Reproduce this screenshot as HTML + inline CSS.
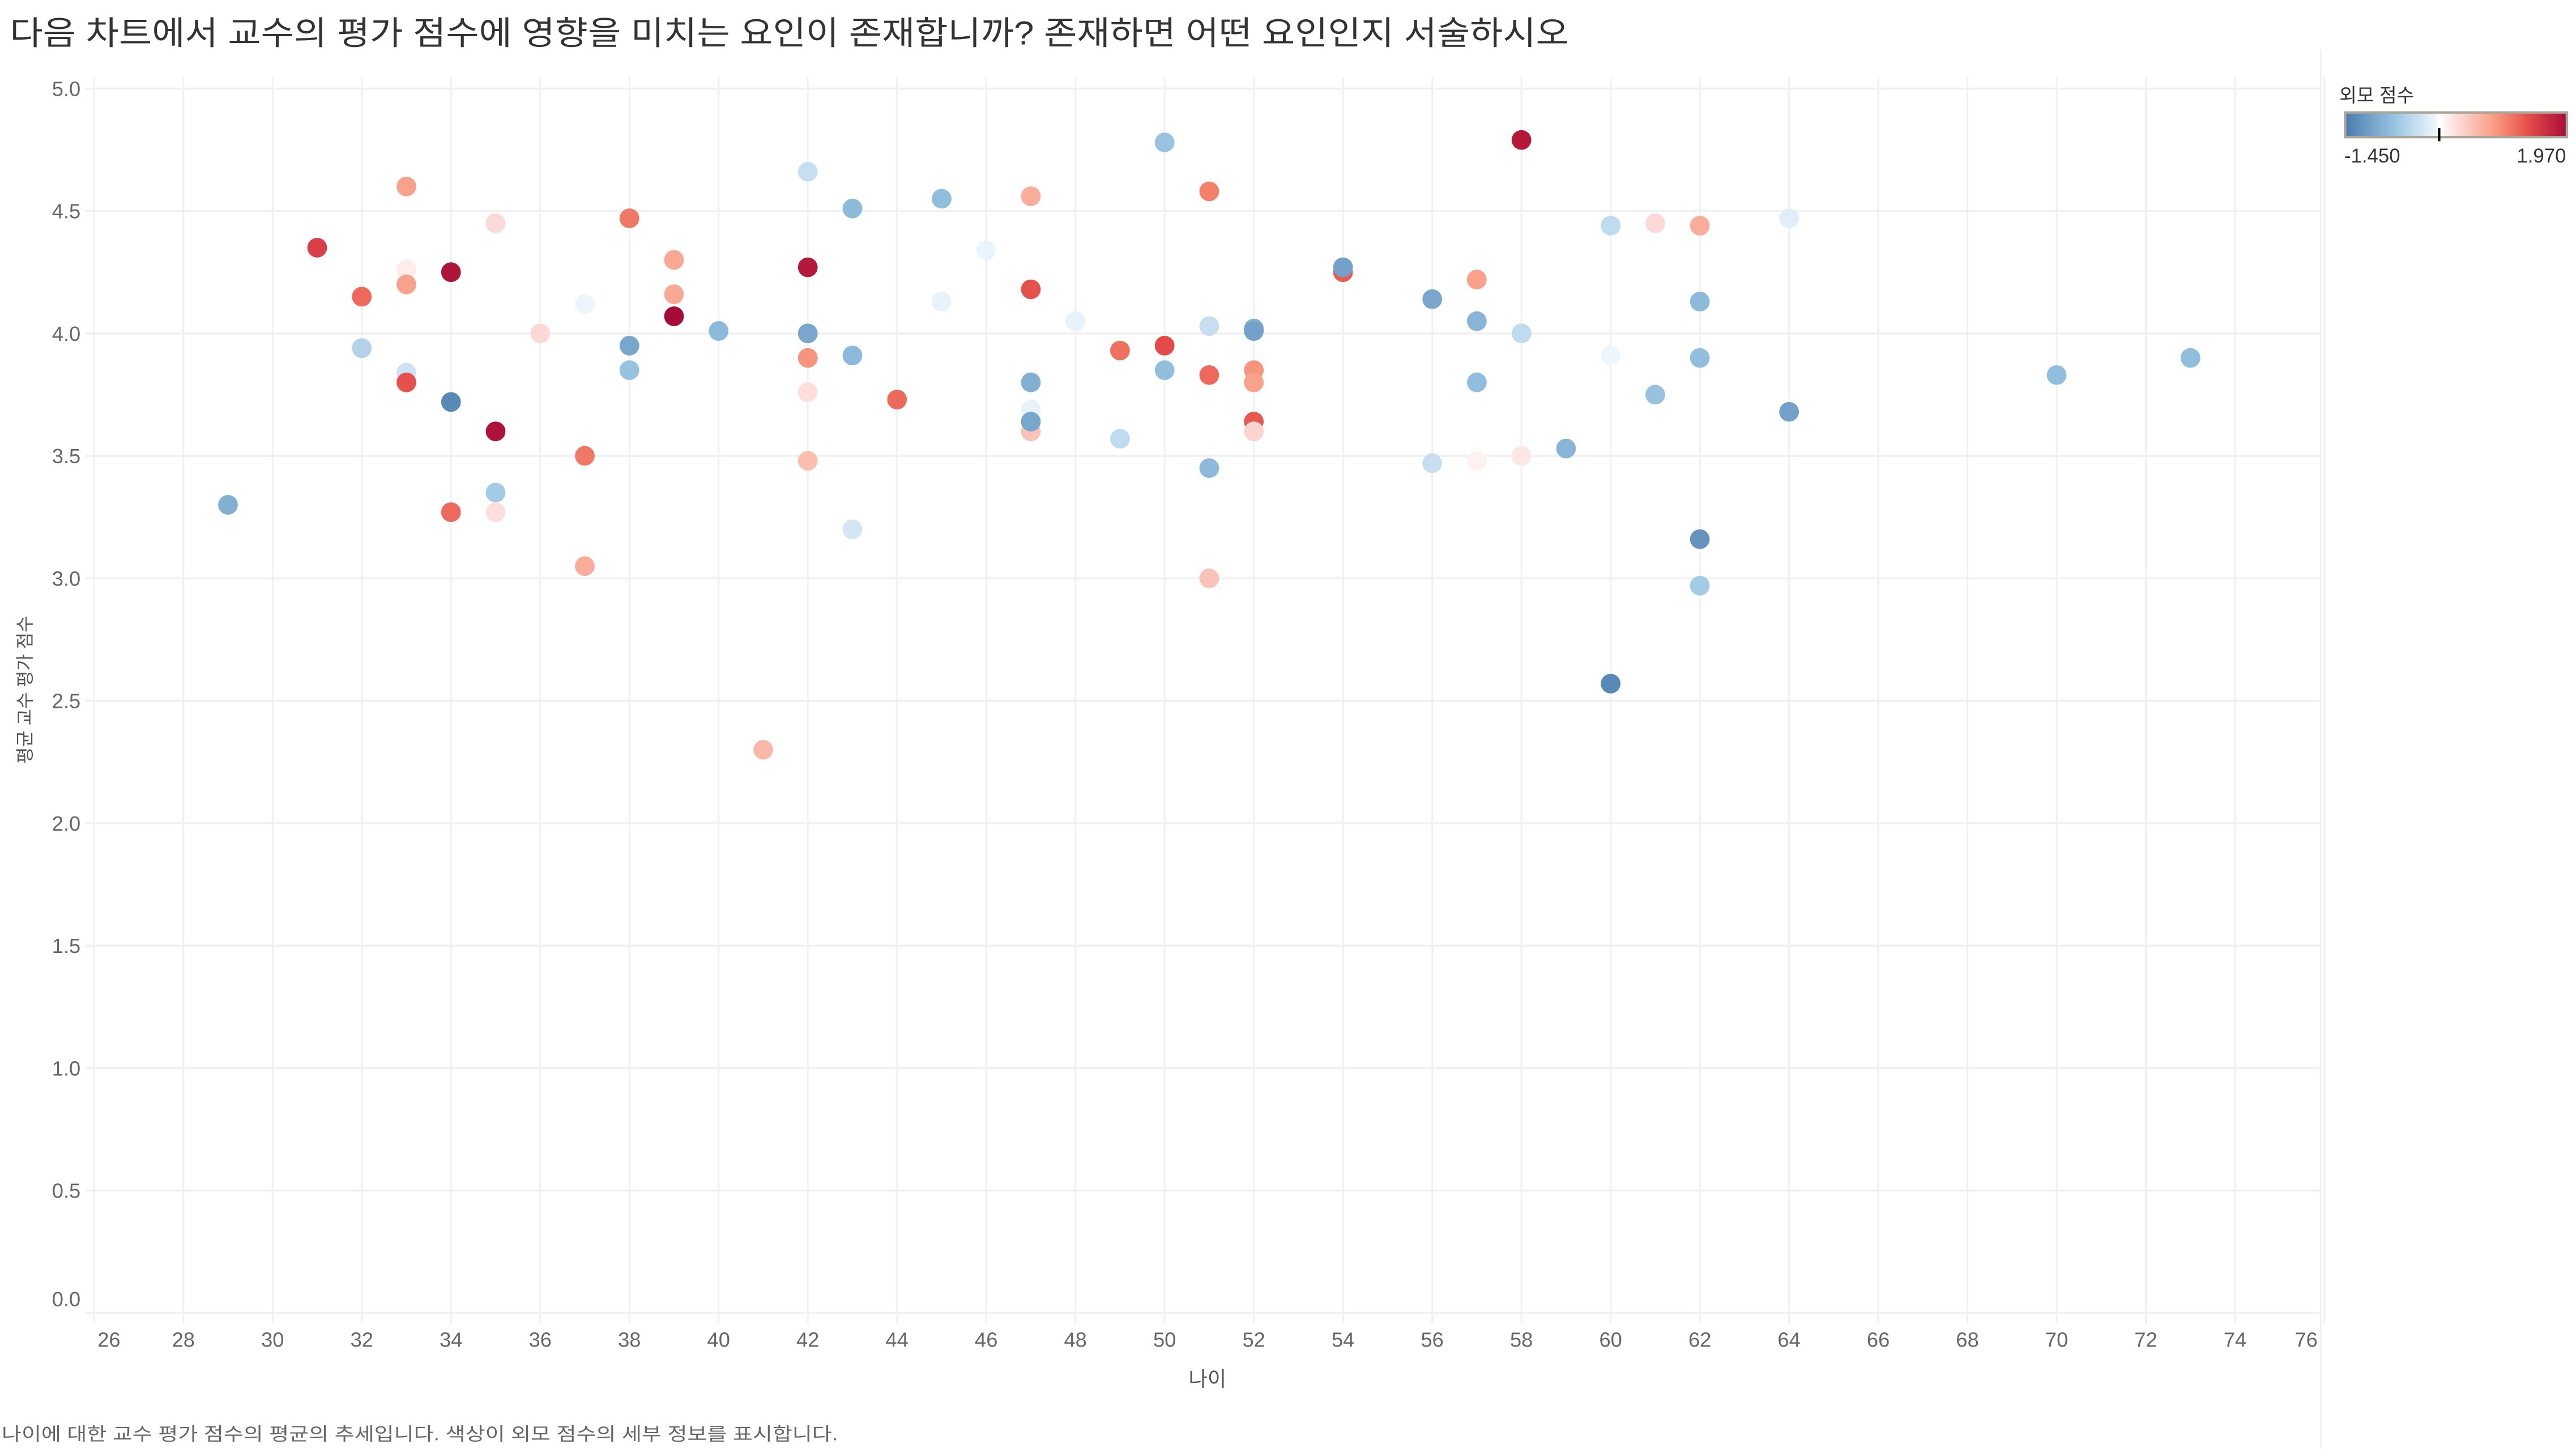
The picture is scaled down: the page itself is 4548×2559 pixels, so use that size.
<!DOCTYPE html>
<html><head><meta charset="utf-8"><style>
html,body{margin:0;padding:0;background:#fff;}
svg{display:block;font-family:"Liberation Sans","Noto Sans CJK KR",sans-serif;}
</style></head><body>
<svg id="chart" width="4548" height="2559" viewBox="0 0 1568 882.3" xmlns="http://www.w3.org/2000/svg">
<text x="6" y="27" font-size="20" fill="#333" textLength="949" lengthAdjust="spacingAndGlyphs">다음 차트에서 교수의 평가 점수에 영향을 미치는 요인이 존재합니까? 존재하면 어떤 요인인지 서술하시오</text>
<g id="grid"></g>
<g id="xaxis"></g>
<g id="yaxis"></g>
<line x1="1412.6" y1="30" x2="1412.6" y2="882" stroke="#f0f0f0" stroke-width="1"/>
<text x="735" y="844" font-size="12.5" fill="#555" text-anchor="middle">나이</text>
<text transform="translate(19,420) rotate(-90)" font-size="11" fill="#555" text-anchor="middle">평균 교수 평가 점수</text>
<g id="points"></g>
<g>
<defs><linearGradient id="lg" x1="0" x2="1" y1="0" y2="0"></linearGradient></defs>
<text x="1424" y="62" font-size="11.5" fill="#333">외모 점수</text>
<rect x="1427.5" y="68.5" width="135" height="15" fill="url(#lg)" stroke="#aaa69a" stroke-width="1.5"/>
<line id="zerotick" y1="78" y2="86" stroke="#000" stroke-width="1.5"/>
<text x="1427" y="99" font-size="12" fill="#333">-1.450</text>
<text x="1562" y="99" font-size="12" fill="#333" text-anchor="end">1.970</text>
</g>
<text x="1" y="877" font-size="11" fill="#666" textLength="509" lengthAdjust="spacingAndGlyphs">나이에 대한 교수 평가 점수의 평균의 추세입니다. 색상이 외모 점수의 세부 정보를 표시합니다.</text>
</svg>
<script>
const ages = [29,31,32,32,33,33,33,33,33,34,34,34,35,35,35,35,36,37,37,37,38,38,38,39,39,39,40,41,42,42,42,42,42,42,43,43,43,44,45,45,46,47,47,47,47,47,47,48,49,49,50,50,50,51,51,51,51,51,52,52,52,52,52,52,54,54,56,56,57,57,57,57,58,58,58,59,60,60,60,61,61,62,62,62,62,62,64,64,70,73];
const scores = [3.30,4.35,4.15,3.94,4.60,4.26,4.20,3.84,3.80,4.25,3.72,3.27,4.45,3.60,3.35,3.27,4.00,4.12,3.50,3.05,4.47,3.95,3.85,4.30,4.16,4.07,4.01,2.30,4.66,4.27,4.00,3.90,3.76,3.48,4.51,3.91,3.20,3.73,4.55,4.13,4.34,4.56,4.18,3.80,3.69,3.60,3.64,4.05,3.93,3.57,4.78,3.95,3.85,4.58,4.03,3.83,3.45,3.00,4.02,4.01,3.85,3.80,3.64,3.60,4.25,4.27,4.14,3.47,4.22,4.05,3.80,3.48,4.79,4.00,3.50,3.53,4.44,3.91,2.57,4.45,3.75,4.44,4.13,3.90,3.16,2.97,4.47,3.68,3.83,3.90];
const looks = [-0.9,1.5,1.2,-0.5,0.8,0.15,0.8,-0.3,1.35,1.9,-1.3,1.2,0.3,1.9,-0.6,0.25,0.3,-0.05,1.1,0.7,1.1,-1.0,-0.7,0.75,0.75,1.97,-0.8,0.6,-0.35,1.85,-1.0,0.9,0.25,0.55,-0.8,-0.8,-0.25,1.2,-0.75,-0.1,-0.08,0.7,1.35,-0.9,-0.1,0.5,-1.0,-0.1,1.15,-0.4,-0.7,1.4,-0.75,1.05,-0.35,1.2,-0.8,0.5,-0.9,-1.05,0.9,0.8,1.3,0.35,1.3,-1.05,-1.0,-0.35,0.8,-0.85,-0.75,0.1,1.85,-0.4,0.2,-0.85,-0.4,-0.05,-1.3,0.3,-0.7,0.7,-0.8,-0.75,-1.2,-0.6,-0.15,-1.05,-0.75,-0.75];
const xTicks = [26,28,30,32,34,36,38,40,42,44,46,48,50,52,54,56,58,60,62,64,66,68,70,72,74,76];
const yTicks = [0,0.5,1,1.5,2,2.5,3,3.5,4,4.5,5];
const colorMin = -1.45, colorMax = 1.97;

const NS = "http://www.w3.org/2000/svg";
const X0 = 57.3, X1 = 1414.8, Y0 = 799.5, Y1 = 53.9;
const xs = v => X0 + (v - 26) / 50 * (X1 - X0);
const ys = v => Y0 - v / 5 * (Y0 - Y1);
const stops = [[-1.45,[74,123,173]],[-0.7,[151,195,225]],[-0.05,[238,246,253]],[0,[255,255,255]],[0.3,[252,217,214]],[0.8,[249,162,139]],[1.1,[240,121,101]],[1.4,[227,74,73]],[1.97,[167,12,56]]];
function color(v){
  for(let i=0;i<stops.length-1;i++){
    const a=stops[i],b=stops[i+1];
    if(v<=b[0]||i==stops.length-2){
      const t=Math.max(0,Math.min(1,(v-a[0])/(b[0]-a[0])));
      const c=a[1].map((x,k)=>Math.round(x+(b[1][k]-x)*t));
      return `rgb(${c.join(',')})`;
    }
  }
}
function mk(tag, attrs, parent){const e=document.createElementNS(NS,tag);for(const k in attrs)e.setAttribute(k,attrs[k]);parent.appendChild(e);return e;}
const grid=document.getElementById('grid'), xa=document.getElementById('xaxis'), ya=document.getElementById('yaxis'), pts=document.getElementById('points');
xTicks.forEach((t,i)=>{
  const x=xs(t);
  const l=mk('line',{x1:x,x2:x,y1:47,y2:806,stroke:'#f0f0f0','stroke-width':1},grid);
  
  
  let lx=x; if(i==0) lx=x+9; if(i==xTicks.length-1) lx=x-11;
  const tx=mk('text',{x:lx,y:820,'font-size':12.5,fill:'#666','text-anchor':'middle'},xa);
  tx.textContent=t;
  
  
});
yTicks.forEach((t,i)=>{
  const y=ys(t);
  const l=mk('line',{x1:52,x2:1412,y1:y,y2:y,stroke:'#f0f0f0','stroke-width':1.2},grid);
  
  
  const ly = i==0 ? y-4 : y+4.5;
  const tx=mk('text',{x:49,y:ly,'font-size':12.5,fill:'#666','text-anchor':'end'},ya);
  tx.textContent=t.toFixed(1);
  
  
});
ages.forEach((a,i)=>{
  const c=mk('circle',{cx:xs(a),cy:ys(scores[i]),r:6,fill:color(looks[i])},pts);
  
  
});
const lg=document.getElementById('lg');
stops.forEach(s=>{mk('stop',{offset:((s[0]-colorMin)/(colorMax-colorMin)*100)+'%','stop-color':`rgb(${s[1].join(',')})`},lg);});
const zx=1427.5+(0-colorMin)/(colorMax-colorMin)*135;
const zt=document.getElementById('zerotick'); zt.setAttribute('x1',zx); zt.setAttribute('x2',zx);
</script>
</body></html>
